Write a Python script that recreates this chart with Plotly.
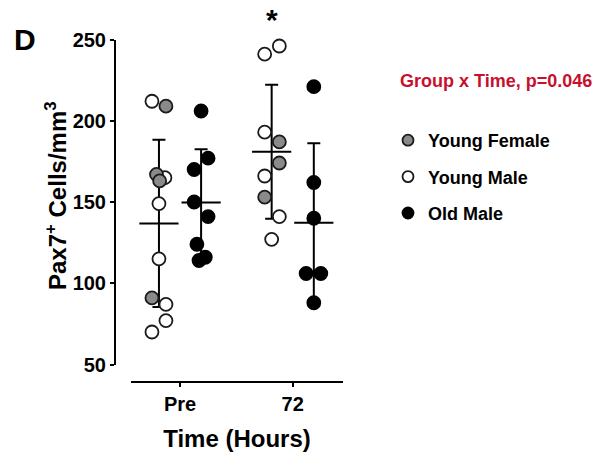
import numpy as np
import plotly.graph_objects as go

# ---------------- data ----------------
time_labels = ["Pre", "72"]
group_names = ["Young Female", "Young Male", "Old Male"]

pre_young_female = [209, 167, 163, 91]
pre_young_male = [212, 165, 149, 115, 87, 77, 70]
pre_old_male = [206, 177, 170, 150, 141, 124, 114, 116]

h72_young_female = [187, 174, 153]
h72_young_male = [246, 241, 193, 166, 141, 127]
h72_old_male = [221, 162, 140, 106, 106, 88]

# horizontal scatter offsets (layout only, in jitter units)
pre_young_female_jit = [1, -0.35, 0.1, -1]
pre_young_male_jit = [-1, 0.85, 0, 0, 1, 1, -1]
pre_old_male_jit = [0, 1, -1, -1, 1, -0.6, -0.3, 0.6]
h72_young_female_jit = [1.1, 1.1, -1]
h72_young_male_jit = [1.1, -1, -1, -1, 1.1, 0]
h72_old_male_jit = [0, 0, 0, -1.1, 1, 0]

# ---------------- layout constants ----------------
W, H = 600, 457
GROUP_OFF = 0.187     # young left, old right of each time tick
JIT = 0.062
FONT = "Liberation Sans, Arial, sans-serif"
RED = "#c8102e"
GRAY = "#8a8a8a"
EDGE = "#1a1a1a"


def xs(t, side, jit):
    return [t + side * GROUP_OFF + j * JIT for j in jit]


fig = go.Figure()

# mean +/- SD (young = female+male pooled, old)
young_pre = pre_young_female + pre_young_male
young_72 = h72_young_female + h72_young_male
for side, sets in [(-1, [young_pre, young_72]), (1, [pre_old_male, h72_old_male])]:
    means = [float(np.mean(s)) for s in sets]
    sds = [float(np.std(s, ddof=1)) for s in sets]
    fig.add_trace(go.Scatter(
        x=[0 + side * GROUP_OFF, 1 + side * GROUP_OFF], y=means,
        mode="markers",
        marker=dict(symbol="line-ew", size=28, color="black",
                    line=dict(color="black", width=2)),
        error_y=dict(type="data", array=sds, visible=True,
                     thickness=2, width=6.5, color="black"),
        showlegend=False, hoverinfo="skip", cliponaxis=False,
    ))

styles = {
    "Young Female": dict(color=GRAY, line=dict(color=EDGE, width=1.8)),
    "Young Male": dict(color="white", line=dict(color=EDGE, width=1.8)),
    "Old Male": dict(color="black", line=dict(color="black", width=1.8)),
}

point_sets = [
    ("Young Male", -1, pre_young_male, pre_young_male_jit, h72_young_male, h72_young_male_jit),
    ("Young Female", -1, pre_young_female, pre_young_female_jit, h72_young_female, h72_young_female_jit),
    ("Old Male", 1, pre_old_male, pre_old_male_jit, h72_old_male, h72_old_male_jit),
]
for name, side, vpre, jpre, v72, j72 in point_sets:
    fig.add_trace(go.Scatter(
        x=xs(0, side, jpre) + xs(1, side, j72),
        y=vpre + v72,
        mode="markers", name=name,
        marker=dict(symbol="circle", size=13, **styles[name]),
        showlegend=False, cliponaxis=False,
    ))

# legend entries
for name in group_names:
    fig.add_trace(go.Scatter(
        x=[None], y=[None], mode="markers", name=name, legendgroup=name,
        marker=dict(symbol="circle", size=11, **styles[name]),
    ))

fig.update_layout(
    width=W, height=H,
    margin=dict(l=0, r=0, t=0, b=0, autoexpand=False),
    paper_bgcolor="white", plot_bgcolor="white",
    font=dict(family=FONT, color="black"),
    showlegend=True,
    legend=dict(
        x=388 / W, y=1 - 122 / H, xanchor="left", yanchor="top",
        font=dict(size=18, family=FONT, weight="bold", color="black"),
        tracegroupgap=10, bgcolor="rgba(0,0,0,0)", traceorder="grouped",
    ),
    xaxis=dict(
        domain=[131 / W, 343 / W], anchor="free", position=1 - 382 / H,
        range=[-0.435, 1.446], tickmode="array", tickvals=[0, 1], ticktext=time_labels,
        showline=True, linecolor="black", linewidth=2,
        ticks="outside", ticklen=4, tickwidth=2, tickcolor="black",
        tickfont=dict(size=20, family=FONT, weight="bold"),
        showgrid=False, zeroline=False, automargin=False,
        title=dict(text="Time (Hours)", font=dict(size=24, family=FONT, weight="bold"), standoff=15),
    ),
    yaxis=dict(
        domain=[1 - 364.5 / H, 1 - 39.5 / H], anchor="free", position=115 / W,
        range=[50, 250], tickmode="array", tickvals=[50, 100, 150, 200, 250],
        showline=True, linecolor="black", linewidth=2,
        ticks="outside", ticklen=4, tickwidth=2, tickcolor="black",
        tickfont=dict(size=20, family=FONT, weight="bold"),
        showgrid=False, zeroline=False, automargin=False,
    ),
    annotations=[
        dict(text="Pax7<sup>+</sup> Cells/mm<sup>3</sup>", textangle=-90,
             xref="paper", yref="paper", x=56 / W, y=1 - 196 / H,
             xanchor="center", yanchor="middle", showarrow=False,
             font=dict(size=24, family=FONT, weight="bold", color="black")),
        dict(text="D", xref="paper", yref="paper", x=25 / W, y=1 - 39 / H,
             xanchor="center", yanchor="middle", showarrow=False,
             font=dict(size=30, family=FONT, weight="bold", color="black")),
        dict(text="*", xref="x", yref="paper", x=1 - GROUP_OFF, y=1 - 19 / H,
             xanchor="center", yanchor="middle", showarrow=False,
             font=dict(size=30, family=FONT, weight="bold", color="black")),
        dict(text="Group x Time, p=0.046", xref="paper", yref="paper",
             x=398 / W, y=1 - 81 / H, xanchor="left", yanchor="middle", showarrow=False,
             font=dict(size=18, family=FONT, weight="bold", color=RED)),
    ],
)

fig.write_html("out.html")
